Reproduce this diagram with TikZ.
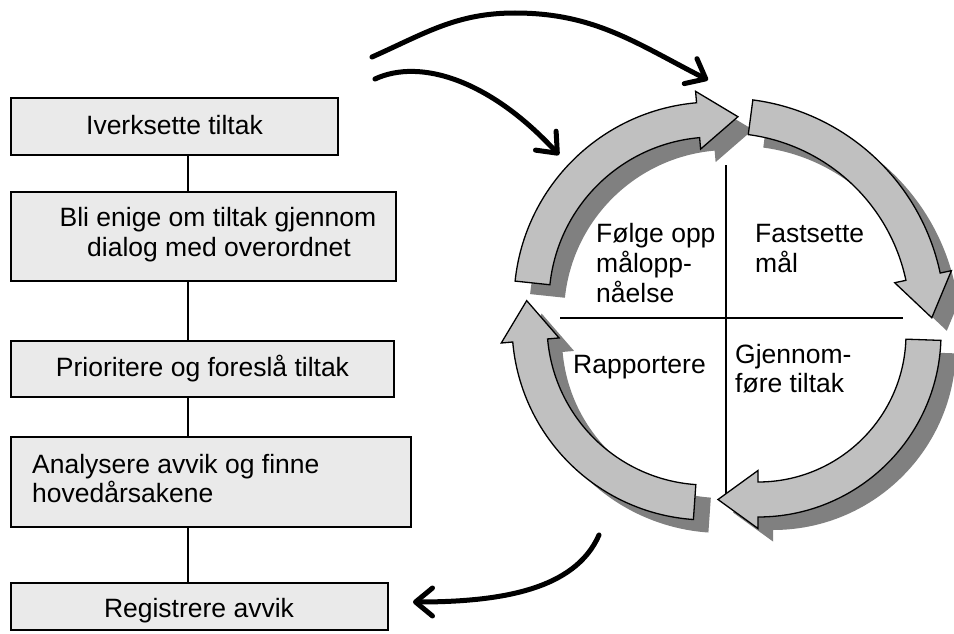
\documentclass[tikz,border=0pt]{standalone}
\usepackage{fontspec}
\setmainfont{Liberation Sans}
\usetikzlibrary{calc,arrows.meta}
\definecolor{boxgray}{HTML}{EAEAEA}
\definecolor{ringgray}{HTML}{C0C0C0}
\definecolor{shadowgray}{HTML}{808080}
% #1 cx, #2 cy, #3 r inner, #4 r outer, #5 tail angle, #6 head base angle, #7 head length, #8 style
\newcommand\ringarrow[8]{%
  \pgfmathsetmacro\RAmid{(#3+#4)/2}%
  \pgfmathsetmacro\RAbo{\RAmid+29}%
  \pgfmathsetmacro\RAbi{\RAmid-29}%
  \pgfmathsetmacro\RAtan{#6-90}%
  \path[#8] ($(#1,#2)+(#5:#4)$) arc[start angle=#5,end angle=#6,radius=#4pt]
    -- ($(#1,#2)+(#6:\RAbo)$)
    -- ($(#1,#2)+(#6:\RAmid)+(\RAtan:#7)$)
    -- ($(#1,#2)+(#6:\RAbi)$)
    -- ($(#1,#2)+(#6:#3)$) arc[start angle=#6,end angle=#5,radius=#3pt]
    -- cycle;}
\begin{document}
\begin{tikzpicture}[x=1pt,y=1pt,
  box/.style={draw=black,line width=1.5pt,fill=boxgray,inner sep=0pt},
  txt/.style={font=\fontsize{26.5}{30}\selectfont,inner sep=0pt},
  link/.style={draw=black,line width=1.4pt},
  ring/.style={fill=ringgray,draw=black,line width=1.3pt,line join=miter},
  shade/.style={fill=shadowgray},
  cross/.style={draw=black,line width=2pt},
  curvy/.style={draw=black,line width=5pt,line cap=round,
    -{Straight Barb[length=17pt,width=28pt,round]}}]
\useasboundingbox[fill=white] (0,0) rectangle (954,-634);

% ---- boxes on the left
\node[box,minimum width=327,minimum height=57] (b1) at (174.5,-126.5) {};
\node[box,minimum width=385,minimum height=89] (b2) at (203.5,-236.5) {};
\node[box,minimum width=383,minimum height=56] (b3) at (202.5,-369) {};
\node[box,minimum width=400,minimum height=90] (b4) at (211,-482) {};
\node[box,minimum width=377,minimum height=47] (b5) at (199.5,-606.5) {};

\coordinate (vx) at (188,0);
\draw[link] (b1.south -| vx) -- (b2.north -| vx);
\draw[link] (b2.south -| vx) -- (b3.north -| vx);
\draw[link] (b3.south -| vx) -- (b4.north -| vx);
\draw[link] (b4.south -| vx) -- (b5.north -| vx);

\node[txt,anchor=base] (t1) at (174.5,-134) {Iverksette tiltak};
\node[txt,anchor=base] (t2a) at (218,-226) {Bli enige om tiltak gjennom};
\node[txt,anchor=base] (t2b) at (219,-256) {dialog med overordnet};
\node[txt,anchor=base] (t3) at (202.5,-376) {Prioritere og foreslå tiltak};
\node[txt,anchor=base west] (t4a) at (32,-473) {Analysere avvik og finne};
\node[txt,anchor=base west] (t4b) at (32,-502) {hovedårsakene};
\node[txt,anchor=base] (t5) at (199,-617) {Registrere avvik};

% ---- cross
\coordinate (cxt) at (726,-165);
\coordinate (cxb) at (726,-503);
\coordinate (cyl) at (560,-318);
\coordinate (cyr) at (903,-318);
\draw[cross] (cxt) -- (cxb);
\draw[cross] (cyl) -- (cyr);

% ---- ring arrows: shadows then arrows
\ringarrow{729}{-315}{165}{200}{174}{95}{40}{shade}
\ringarrow{739}{-332}{186}{221}{82.5}{12}{42}{shade}
\ringarrow{773}{-347}{148}{183}{-2}{-90}{40}{shade}
\ringarrow{722}{-338}{160}{195}{266}{185}{40}{shade}

\ringarrow{714}{-302}{165}{200}{174}{95}{40}{ring}
\ringarrow{724}{-319}{186}{221}{82.5}{12}{42}{ring}
\ringarrow{758}{-334}{148}{183}{-2}{-90}{40}{ring}
\ringarrow{707}{-325}{160}{195}{266}{185}{40}{ring}

% ---- quadrant texts
\node[txt,anchor=base west] (q1a) at (596,-242) {Følge opp};
\node[txt,anchor=base west] (q1b) at (596,-272) {målopp-};
\node[txt,anchor=base west] (q1c) at (596,-302) {nåelse};
\node[txt,anchor=base west] (q2a) at (755,-242) {Fastsette};
\node[txt,anchor=base west] (q2b) at (755,-272) {mål};
\node[txt,anchor=base west] (q3a) at (735,-363) {Gjennom-};
\node[txt,anchor=base west] (q3b) at (735,-392) {føre tiltak};
\node[txt,anchor=base west] (q4) at (573,-373) {Rapportere};

% ---- curved black arrows
\coordinate (a1) at (372,-57);
\coordinate (a2) at (515,-13);
\coordinate (a3) at (708,-80);
\draw[curvy] (a1) to[out=24,in=180] (a2) to[out=0,in=153] (a3);

\coordinate (c1) at (375,-79);
\coordinate (c2) at (559,-155);
\draw[curvy] (c1) .. controls (420,-58) and (490,-80) .. (c2);

\coordinate (d1) at (599,-535);
\coordinate (d2) at (413,-602);
\draw[curvy] (d1) .. controls (575,-590) and (500,-602) .. (d2);
\end{tikzpicture}
\end{document}
